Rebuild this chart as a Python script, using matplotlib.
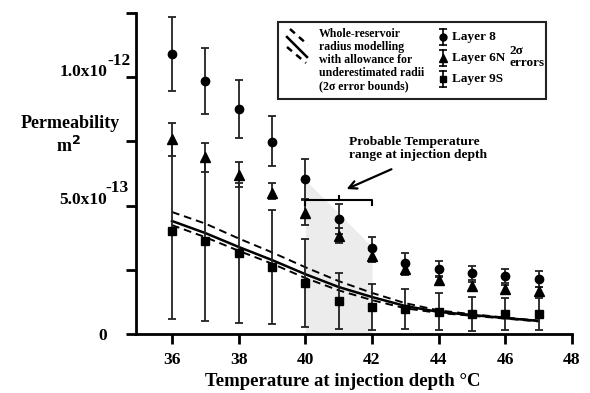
import matplotlib
matplotlib.use("Agg")
import matplotlib.pyplot as plt
from matplotlib.lines import Line2D
from matplotlib.patches import Rectangle
import numpy as np

plt.rcParams['font.family'] = ['Liberation Serif', 'DejaVu Serif']
plt.rcParams['font.weight'] = 'bold'

# ---- data (permeability in units of 1e-13 m^2) ----
temps = [36, 37, 38, 39, 40, 41, 42, 43, 44, 45, 46, 47]

layer8 = [10.89, 9.84, 8.75, 7.47, 6.03, 4.47, 3.35, 2.76, 2.53, 2.37, 2.26, 2.14]
layer8_err_hi = [1.44, 1.28, 1.13, 1.01, 0.78, 0.59, 0.42, 0.39, 0.31, 0.28, 0.27, 0.31]
layer8_err_lo = [1.44, 1.28, 1.12, 0.93, 0.82, 0.59, 0.42, 0.39, 0.31, 0.28, 0.27, 0.31]

layer6n = [7.59, 6.89, 6.19, 5.49, 4.71, 3.81, 3.04, 2.53, 2.10, 1.87, 1.75, 1.67]
layer6n_err_hi = [0.62, 0.54, 0.50, 0.39, 0.54, 0.31, 0.23, 0.22, 0.17, 0.15, 0.15, 0.15]
layer6n_err_lo = [0.66, 0.59, 0.47, 0.24, 0.47, 0.27, 0.24, 0.22, 0.17, 0.15, 0.15, 0.15]

layer9s = [4.00, 3.62, 3.15, 2.61, 1.98, 1.28, 1.05, 0.97, 0.86, 0.78, 0.78, 0.78]
layer9s_err = [3.42, 3.12, 2.72, 2.22, 1.71, 1.09, 0.89, 0.78, 0.72, 0.66, 0.64, 0.64]

model_temps = [36, 37, 38, 39, 40, 41, 42, 43, 44, 45, 46, 47]
model_mid = [4.40, 3.93, 3.39, 2.88, 2.33, 1.83, 1.44, 1.09, 0.86, 0.74, 0.62, 0.51]
model_upper = [4.75, 4.30, 3.72, 3.18, 2.60, 2.06, 1.60, 1.20, 0.92, 0.77, 0.64, 0.52]
model_lower = [4.24, 3.77, 3.24, 2.74, 2.18, 1.70, 1.32, 1.00, 0.82, 0.71, 0.60, 0.49]

shade_x = [40, 42]
shade_top = [6.0, 3.4]

ytick_vals = [0, 2.5, 5.0, 7.5, 10.0, 12.5]
xtick_vals = [36, 38, 40, 42, 44, 46, 48]

W, H = 590, 393
fig = plt.figure(figsize=(W / 100, H / 100), dpi=100)
ax = fig.add_axes([136 / W, 1 - 334 / H, (572 - 136) / W, (334 - 13) / H])

def fx(px):
    return px / W

def fy(py):
    return 1 - py / H

# shaded temperature range
ax.fill_between(shade_x, [0, 0], shade_top, color='#ececec', lw=0, zorder=0)

# model curves
ax.plot(model_temps, model_mid, color='black', lw=1.8, zorder=3)
ax.plot(model_temps, model_upper, color='black', lw=1.4, ls=(0, (4, 2.5)), zorder=3)
ax.plot(model_temps, model_lower, color='black', lw=1.4, ls=(0, (4, 2.5)), zorder=3)

ekw = dict(color='black', ecolor='#222222', elinewidth=1.3, capsize=2.8, capthick=1.3,
           ls='none', zorder=4)
ax.errorbar(temps, layer9s, yerr=layer9s_err, marker='s', ms=5.5, **ekw)
ax.errorbar(temps, layer6n, yerr=[layer6n_err_lo, layer6n_err_hi], marker='^', ms=6.5, **ekw)
ax.errorbar(temps, layer8, yerr=[layer8_err_lo, layer8_err_hi], marker='o', ms=6, **ekw)

# bracket over the probable range
bx0, bx1, by = 40, 42, 5.2
ax.plot([bx0, bx0, bx1, bx1], [by - 0.18, by, by, by - 0.18], color='black', lw=1.5, zorder=5)
ax.plot([41, 41], [by, by + 0.18], color='black', lw=1.5, zorder=5)

ax.annotate('', xy=(41.16, 5.6), xytext=(42.66, 6.46),
            arrowprops=dict(arrowstyle='->', lw=1.6, color='black', mutation_scale=14))
ax.text(41.31, 7.22, 'Probable Temperature\nrange at injection depth', fontsize=9.7,
        fontweight='bold', ha='left', va='center', linespacing=1.05)

# axes style
ax.set_xlim(34.92, 48)
ax.set_ylim(0, 12.5)
for s in ['top', 'right']:
    ax.spines[s].set_visible(False)
for s in ['left', 'bottom']:
    ax.spines[s].set_linewidth(2)
ax.set_xticks(xtick_vals)
ax.set_xticklabels([str(v) for v in xtick_vals], fontsize=12.5, fontweight='bold')
ax.set_yticks(ytick_vals)
ax.set_yticklabels(['0', '', '', '', '', ''], fontsize=12.5, fontweight='bold')
ax.tick_params(axis='both', direction='out', length=7, width=2, pad=6)
ax.tick_params(axis='y', pad=14)

# y tick labels with exponents
fig.text(fx(107), fy(72), '1.0x10', fontsize=12.5, fontweight='bold', ha='right', va='center')
fig.text(fx(107), fy(61), '-12', fontsize=12.5, fontweight='bold', ha='left', va='center')
fig.text(fx(107), fy(200), '5.0x10', fontsize=12.5, fontweight='bold', ha='right', va='center')
fig.text(fx(105), fy(188), '-13', fontsize=12.5, fontweight='bold', ha='left', va='center')

fig.text(fx(70), fy(124), 'Permeability', fontsize=13, fontweight='bold', ha='center', va='center')
fig.text(fx(68), fy(146), 'm$^{\\mathbf{2}}$', fontsize=13, fontweight='bold', ha='center', va='center')

fig.text(fx(343), fy(382), 'Temperature at injection depth \u00b0C', fontsize=13.5,
         fontweight='bold', ha='center', va='center')

# legend box
fig.patches.append(Rectangle((fx(278), fy(99)), fx(546) - fx(278), fy(22) - fy(99),
                             transform=fig.transFigure, fill=False, lw=1.5, ec='#222222'))
for (x0, y0, x1, y1, st) in [(290, 29, 308, 45, (0, (2.6, 2.2))),
                             (287, 37, 307, 57, '-'),
                             (287, 47, 306, 63, (0, (2.6, 2.2)))]:
    fig.lines.append(Line2D([fx(x0), fx(x1)], [fy(y0), fy(y1)], transform=fig.transFigure,
                            color='black', lw=1.8, ls=st))
fig.text(fx(319), fy(60), 'Whole-reservoir\nradius modelling\nwith allowance for\nunderestimated radii\n(2\u03c3 error bounds)',
         fontsize=8.5, fontweight='bold', ha='left', va='center', linespacing=1.12)

for (py, mk, ms, lab) in [(37, 'o', 5, 'Layer 8'), (58, '^', 5.5, 'Layer 6N'), (79, 's', 4.5, 'Layer 9S')]:
    fig.lines.append(Line2D([fx(443), fx(443)], [fy(py - 8), fy(py + 8)], transform=fig.transFigure,
                            color='black', lw=1.2))
    fig.lines.append(Line2D([fx(443), fx(443)], [fy(py - 8), fy(py + 8)], transform=fig.transFigure,
                            color='black', lw=0, marker='_', ms=6, mew=1.2))
    fig.lines.append(Line2D([fx(443)], [fy(py)], transform=fig.transFigure,
                            color='black', lw=0, marker=mk, ms=ms))
    fig.text(fx(452), fy(py), lab, fontsize=9.5, fontweight='bold', ha='left', va='center')
fig.text(fx(509), fy(57), '2\u03c3\nerrors', fontsize=9.5, fontweight='bold', ha='left', va='center',
         linespacing=1.05)

fig.savefig('out.png', dpi=100)
